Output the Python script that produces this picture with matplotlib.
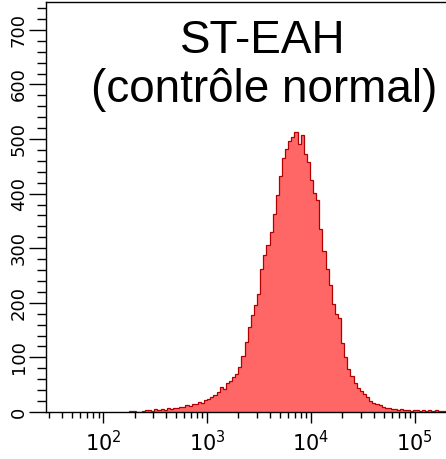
import numpy as np
import matplotlib
matplotlib.use("Agg")
import matplotlib.pyplot as plt
from matplotlib.ticker import FixedLocator, LogLocator, NullFormatter, FixedFormatter

plt.rcParams['font.family'] = ['Liberation Sans Narrow', 'DejaVu Sans Condensed', 'DejaVu Sans']
plt.rcParams['mathtext.fontset'] = 'custom'
plt.rcParams['mathtext.rm'] = 'Liberation Sans Narrow'

# histogram: log10 bin start, bin width (decades), counts per bin
log_start = 2.25
log_step = 0.03
counts = [2, 2, 0, 0, 1,
          3, 4, 2, 5, 3, 6, 4, 7, 6, 8,
          7, 10, 9, 12, 11, 15, 14, 18, 17, 22,
          24, 28, 31, 36, 45, 42, 53, 56, 64, 70,
          82, 102, 128, 155, 178, 196, 216, 262, 288, 306,
          330, 362, 398, 432, 465, 482, 496, 503, 512, 490,
          508, 472, 458, 425, 402, 388, 335, 295, 262, 232,
          198, 180, 172, 126, 100, 78, 66, 54, 44, 38,
          33, 28, 20, 17, 15, 12, 10, 7, 8, 5,
          6, 4, 5, 3, 4, 2, 3, 3, 2, 4,
          2, 3, 2, 3, 2, 2, 2]
edges = 10 ** (log_start + log_step * np.arange(len(counts) + 1))

title1 = "ST-EAH"
title2 = "(contrôle normal)"
y_ticks = [0, 100, 200, 300, 400, 500, 600, 700]
x_decades = [100, 1000, 10000, 100000]
x_labels = [r'$\mathregular{10^{2}}$', r'$\mathregular{10^{3}}$',
            r'$\mathregular{10^{4}}$', r'$\mathregular{10^{5}}$']

fig = plt.figure(figsize=(4.46, 4.59), dpi=100)
ax = fig.add_axes([46 / 446, 47 / 459, 400 / 446, 410 / 459])

ax.stairs(counts, edges, fill=True, color='#FF6666', zorder=2)
ax.stairs(counts, edges, color='#B00000', linewidth=0.9, zorder=3)

ax.set_xscale('log')
ax.set_xlim(10 ** 1.447, 10 ** 5.30)
ax.set_ylim(0, 751)

ax.xaxis.set_major_locator(FixedLocator(x_decades))
ax.xaxis.set_major_formatter(FixedFormatter(x_labels))
ax.xaxis.set_minor_locator(LogLocator(base=10, subs=np.arange(2, 10), numticks=20))
ax.xaxis.set_minor_formatter(NullFormatter())

ax.yaxis.set_major_locator(FixedLocator(y_ticks))
ax.yaxis.set_minor_locator(FixedLocator(np.arange(0, 751, 20)))

ax.tick_params(axis='x', which='major', length=8, width=1, pad=5, labelsize=15)
ax.tick_params(axis='x', which='minor', length=4.5, width=1)
ax.tick_params(axis='y', which='major', length=12, width=1, pad=1, labelsize=13)
ax.tick_params(axis='y', which='minor', length=6.5, width=1)
for lab in ax.get_yticklabels():
    lab.set_rotation(90)
    lab.set_va('center')

ax.spines['right'].set_visible(False)
for s in ['left', 'bottom', 'top']:
    ax.spines[s].set_linewidth(1)

fig.text(263 / 446, 1 - 53 / 459, title1, ha='center', va='baseline',
         fontsize=33, family='Liberation Sans')
fig.text(264 / 446, 1 - 102 / 459, title2, ha='center', va='baseline',
         fontsize=33, family='Liberation Sans')

fig.savefig('out.png', dpi=100)
